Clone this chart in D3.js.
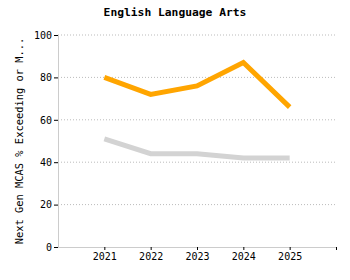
<!DOCTYPE html>
<html>
<head>
<meta charset="utf-8">
<script src="https://cdn.jsdelivr.net/npm/d3@7"></script>
<style>
  body { margin: 0; background: #fff; }
  text { font-family: "DejaVu Sans Mono", monospace; }
</style>
</head>
<body>
<div id="chart"></div>
<script>
var years = [2021, 2022, 2023, 2024, 2025];
var schoolValues = [80, 72, 76, 87, 66];
var stateValues = [51, 44, 44, 42, 42];
var yTicks = [0, 20, 40, 60, 80, 100];

const margin = {top: 35, right: 14, bottom: 33, left: 58},
    width = 350 - margin.left - margin.right,
    height = 280 - margin.top - margin.bottom;

const svg = d3.select("#chart")
    .append("svg")
        .attr("width", 350)
        .attr("height", 280)
    .append("g")
        .attr("transform", "translate(" + margin.left + "," + margin.top + ")");

const x = d3.scaleLinear()
    .domain([2020, 2026])
    .range([0, width]);

const y = d3.scaleLinear()
    .domain([0, 100])
    .range([height, 0]);

// dotted grid
svg.selectAll(".grid")
    .data(yTicks.slice(1))
    .enter().append("line")
    .attr("x1", 0)
    .attr("x2", width)
    .attr("y1", d => y(d))
    .attr("y2", d => y(d))
    .attr("stroke", "#bbb")
    .attr("stroke-dasharray", "1,2");

const yAxis = svg.append("g")
    .call(d3.axisLeft(y).tickValues(yTicks).tickSize(4).tickPadding(2));
yAxis.select(".domain").attr("stroke", "#ccc");
yAxis.selectAll(".tick line").attr("stroke", "#000");
yAxis.selectAll("text").style("font-size", "10px").attr("fill", "#000");

const xAxis = svg.append("g")
    .attr("transform", "translate(0," + height + ")")
    .call(d3.axisBottom(x).tickValues(years.concat([2026])).tickSize(3).tickSizeOuter(0)
        .tickFormat(d => d === 2026 ? "" : d3.format("d")(d)));
xAxis.select(".domain").attr("stroke", "#ccc");
xAxis.selectAll(".tick line").attr("stroke", "#000");
xAxis.selectAll("text").style("font-size", "10px").attr("fill", "#000");

const line = d3.line()
    .x((d, i) => x(years[i]))
    .y(d => y(d));

svg.append("path")
    .datum(stateValues)
    .attr("fill", "none")
    .attr("stroke", "#d3d3d3")
    .attr("stroke-width", 5)
    .attr("d", line);

svg.append("path")
    .datum(schoolValues)
    .attr("fill", "none")
    .attr("stroke", "#ffa500")
    .attr("stroke-width", 5)
    .attr("d", line);

d3.select("svg").append("text")
    .attr("x", 175)
    .attr("y", 16)
    .attr("text-anchor", "middle")
    .style("font-size", "11.3px")
    .style("font-weight", "bold")
    .text("English Language Arts");

d3.select("svg").append("text")
    .attr("transform", "translate(23," + (margin.top + height / 2) + ") rotate(-90)")
    .attr("text-anchor", "middle")
    .style("font-size", "10.4px")
    .text("Next Gen MCAS % Exceeding or M...");
</script>
</body>
</html>
